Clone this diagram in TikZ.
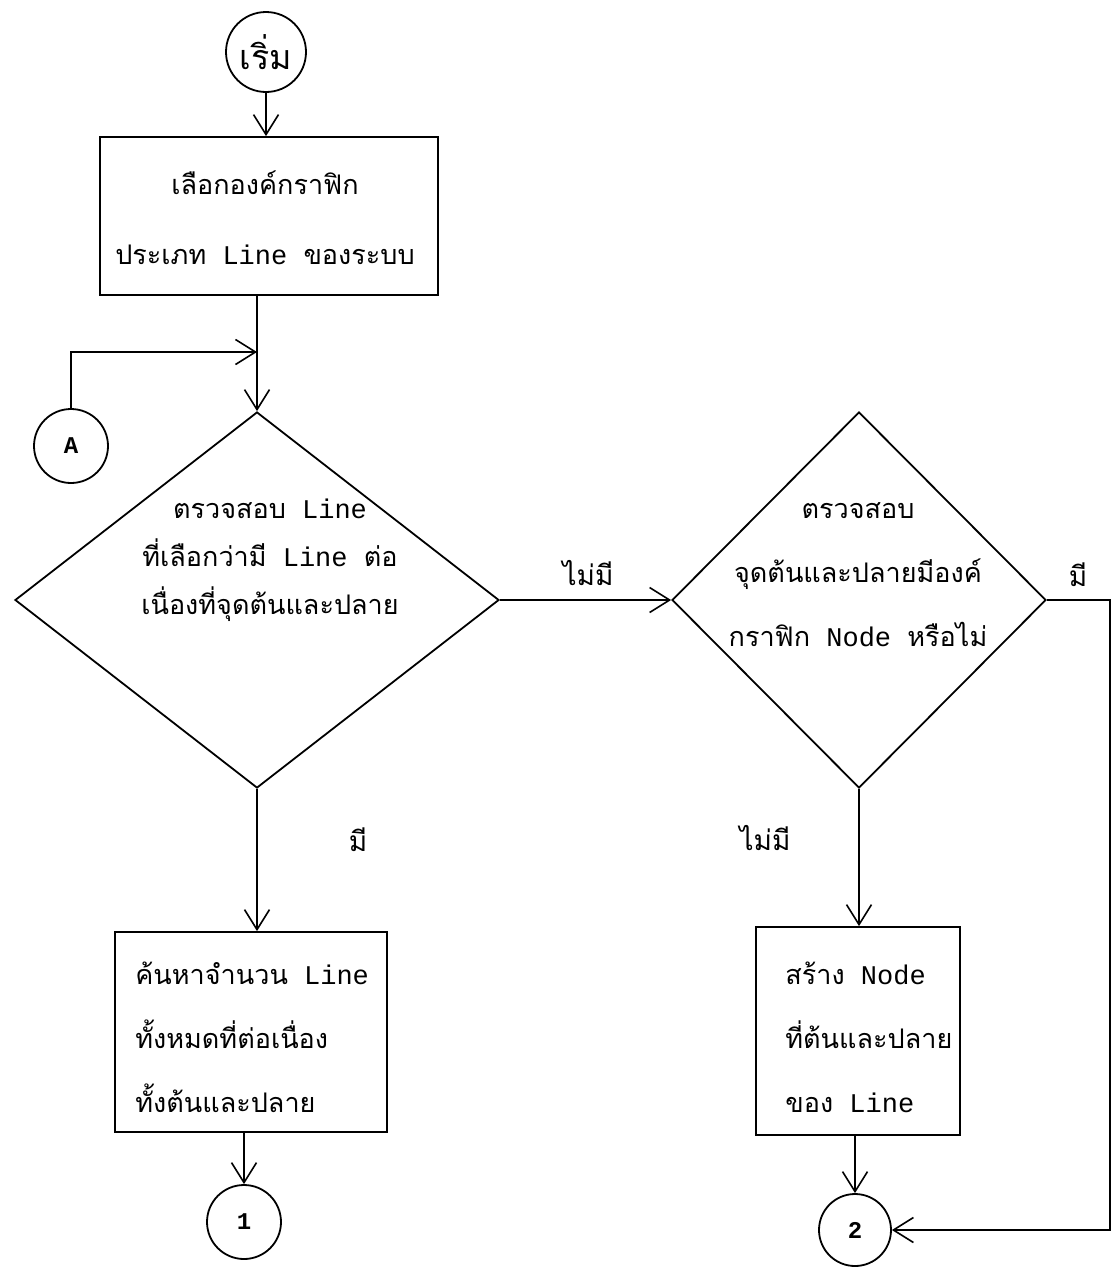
\documentclass[tikz,border=0pt]{standalone}
\usepackage{fontspec}
\setmainfont{Liberation Mono}
\newfontfamily\thai[Script=Thai]{Loma}
\usetikzlibrary{shapes.geometric,arrows.meta}
\begin{document}
\begin{tikzpicture}[x=0.5pt,y=-0.5pt,
  every node/.style={inner sep=0pt},
  txt/.style={font=\fontsize{13.5}{24}\selectfont},
  flowline/.style={line width=0.9pt},
  arr/.style={flowline,-{Straight Barb[length=10pt,width=12.5pt,line width=0.8pt]}},
  conn/.style={draw,line width=0.9pt,circle,minimum size=#1},
  procbox/.style={draw,line width=0.9pt,rectangle},
  decision/.style={draw,line width=0.9pt,diamond}]
\useasboundingbox (0,0) rectangle (1117,1269);

% nodes
\node[conn=40pt,font=\fontsize{17}{18}\selectfont] (start) at (266,52) {\thai เริ่ม};
\node[procbox,minimum width=169pt,minimum height=79pt] (box1) at (269,216) {};
\node[txt,align=center,font=\fontsize{13.5}{35}\selectfont] (box1t) at (265,218)
  {{\thai เลือกองค์กราฟิก}\\{\thai ประเภท} Line {\thai ของระบบ}};
\node[conn=37pt,font=\fontsize{12}{14}\selectfont\bfseries] (A) at (71,446) {A};
\coordinate (join) at (257,352);

\node[decision,minimum width=242pt,minimum height=188pt] (d1) at (257,600) {};
\node[txt,align=center] (d1t) at (270,560)
  {{\thai ตรวจสอบ} Line\\{\thai ที่เลือกว่ามี} Line {\thai ต่อ}\\{\thai เนื่องที่จุดต้นและปลาย}};

\node[decision,minimum width=187pt,minimum height=188pt] (d2) at (859,600) {};
\node[txt,align=center,font=\fontsize{13.5}{32}\selectfont] (d2t) at (858,575)
  {{\thai ตรวจสอบ}\\{\thai จุดต้นและปลายมีองค์}\\{\thai กราฟิก} Node {\thai หรือไม่}};

\node[procbox,minimum width=136pt,minimum height=100pt] (box2) at (251,1032) {};
\node[txt,align=left,anchor=west,font=\fontsize{13.5}{32}\selectfont] (box2t) at (135,1037)
  {{\thai ค้นหาจำนวน} Line\\{\thai ทั้งหมดที่ต่อเนื่อง}\\{\thai ทั้งต้นและปลาย}};

\node[procbox,minimum width=102pt,minimum height=104pt] (box3) at (858,1031) {};
\node[txt,align=left,anchor=west,font=\fontsize{13.5}{32}\selectfont] (box3t) at (785,1037)
  {{\thai สร้าง} Node\\{\thai ที่ต้นและปลาย}\\{\thai ของ} Line};

\node[conn=37pt,font=\fontsize{12}{14}\selectfont\bfseries] (c1) at (244,1222) {1};
\node[conn=36pt,font=\fontsize{12}{14}\selectfont\bfseries] (c2) at (855,1230) {2};
\coordinate (rc) at (1110,600);

% labels
\node[font=\fontsize{14}{16}\selectfont] (l1) at (588,573) {\thai ไม่มี};
\node[font=\fontsize{14}{16}\selectfont] (l2) at (1078,575) {\thai มี};
\node[font=\fontsize{14}{16}\selectfont] (l3) at (358,840) {\thai มี};
\node[font=\fontsize{14}{16}\selectfont] (l4) at (765,838) {\thai ไม่มี};

% connectors
\draw[arr] (start) -- (box1.north -| start);
\draw[arr] (box1.south -| join) -- (d1.north);
\draw[arr] (A.north) |- (join);
\draw[arr] (d1.east) -- (d2.west);
\draw[arr] (d1.south) -- (box2.north -| d1.south);
\draw[arr] (d2.south) -- (box3.north -| d2.south);
\draw[arr] (box2.south -| c1) -- (c1.north);
\draw[arr] (box3.south -| c2) -- (c2.north);
\draw[arr] (d2.east) -- (rc) |- (c2.east);
\end{tikzpicture}
\end{document}
